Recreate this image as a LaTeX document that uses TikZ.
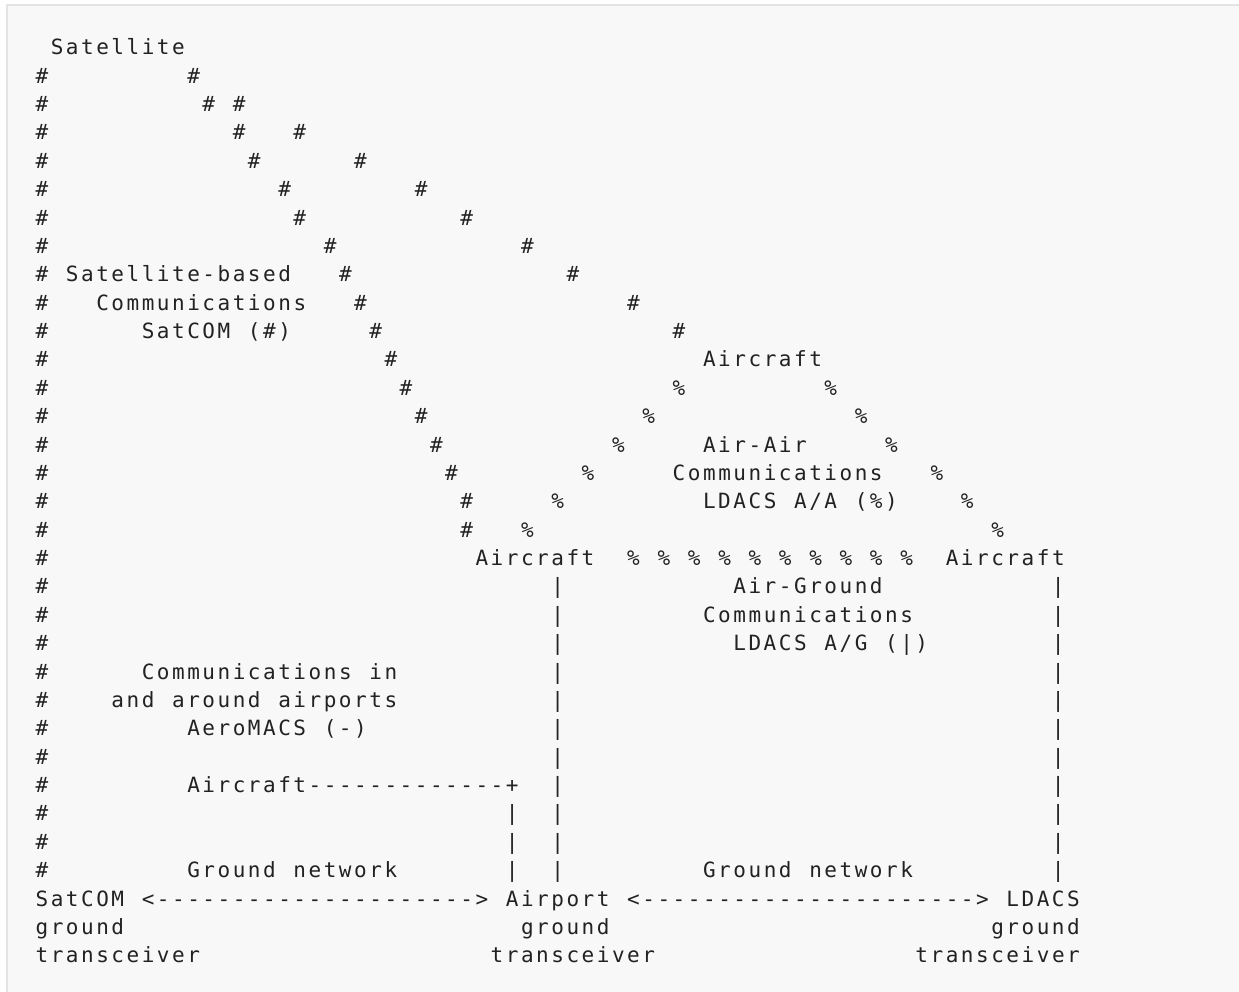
\documentclass[tikz,border=0pt]{standalone}
\usepackage{fontspec}
\newfontfamily\asciifont[LetterSpace=12.05]{DejaVu Sans Mono}
\definecolor{ink}{HTML}{222222}
\definecolor{paper}{HTML}{F8F8F8}
\definecolor{rim}{HTML}{E4E4E4}
\newcommand{\seg}[4]{\node[txt] (#1) at ({35.2+15.17*#2},{54.75+28.375*(#3-1)}) {#4}}

\begin{document}
\begin{tikzpicture}[x=0.5pt, y=-0.5pt,
  txt/.style={anchor=base west, inner sep=0pt, text=ink, font=\asciifont\fontsize{10.5pt}{12pt}\selectfont}]

\useasboundingbox (0,0) rectangle (1239,992);
\fill[white] (0,0) rectangle (1239,992);
\fill[paper] (7,5) rectangle (1239,992);
\draw[rim, line width=0.75pt] (7,992) -- (7,5) -- (1239,5);

\seg{sat}{1}{1}{Satellite};
\foreach \r in {2,...,30} \seg{edge\r}{0}{\r}{\#};
\foreach \c/\r in {10/2,11/3,13/4,14/5,16/6,17/7,19/8,20/9,21/10,22/11,23/12,24/13,25/14,26/15,27/16,28/17,28/18}
  \seg{sl\r}{\c}{\r}{\#};
\foreach \c/\r in {13/3,17/4,21/5,25/6,28/7,32/8,35/9,39/10,42/11}
  \seg{sr\r}{\c}{\r}{\#};

\seg{satbased}{2}{9}{Satellite-based};
\seg{satcomm}{4}{10}{Communications};
\seg{satcom}{7}{11}{SatCOM};
\seg{sattag}{14}{11}{(\#)};

\seg{acTop}{44}{12}{Aircraft};
\foreach \c/\r in {42/13,40/14,38/15,36/16,34/17,32/18}
  \seg{al\r}{\c}{\r}{\%};
\foreach \c/\r in {52/13,54/14,56/15,59/16,61/17,63/18}
  \seg{ar\r}{\c}{\r}{\%};
\seg{aaA}{44}{15}{Air-Air};
\seg{aaB}{42}{16}{Communications};
\seg{aaC}{44}{17}{LDACS};
\seg{aaD}{50}{17}{A/A};
\seg{aaE}{54}{17}{(\%)};

\seg{acLeft}{29}{19}{Aircraft};
\seg{acRight}{60}{19}{Aircraft};
\foreach \c in {39,41,...,57} \seg{ab\c}{\c}{19}{\%};

\foreach \r in {20,...,30} \seg{lnA\r}{34}{\r}{|};
\foreach \r in {20,...,30} \seg{lnB\r}{67}{\r}{|};
\foreach \r in {28,29,30} \seg{lnC\r}{31}{\r}{|};
\seg{agA}{46}{20}{Air-Ground};
\seg{agB}{44}{21}{Communications};
\seg{agC}{46}{22}{LDACS};
\seg{agD}{52}{22}{A/G};
\seg{agE}{56}{22}{(|)};

\seg{amA}{7}{23}{Communications};
\seg{amB}{22}{23}{in};
\seg{amC}{5}{24}{and};
\seg{amD}{9}{24}{around};
\seg{amE}{16}{24}{airports};
\seg{amF}{10}{25}{AeroMACS};
\seg{amG}{19}{25}{(-)};

\seg{acAp}{10}{27}{Aircraft};
\foreach \c in {18,...,30} \seg{dk\c}{\c}{27}{-};
\seg{joint}{31}{27}{+};

\seg{gnA}{10}{30}{Ground};
\seg{gnB}{17}{30}{network};
\seg{gnC}{44}{30}{Ground};
\seg{gnD}{51}{30}{network};

\seg{gSat}{0}{31}{SatCOM};
\seg{tipA}{7}{31}{<};
\foreach \c in {8,...,28} \seg{da\c}{\c}{31}{-};
\seg{tipB}{29}{31}{>};
\seg{gAir}{31}{31}{Airport};
\seg{tipC}{39}{31}{<};
\foreach \c in {40,...,61} \seg{db\c}{\c}{31}{-};
\seg{tipD}{62}{31}{>};
\seg{gLd}{64}{31}{LDACS};

\seg{grA}{0}{32}{ground};
\seg{grB}{32}{32}{ground};
\seg{grC}{63}{32}{ground};
\seg{trA}{0}{33}{transceiver};
\seg{trB}{30}{33}{transceiver};
\seg{trC}{58}{33}{transceiver};

\end{tikzpicture}
\end{document}
